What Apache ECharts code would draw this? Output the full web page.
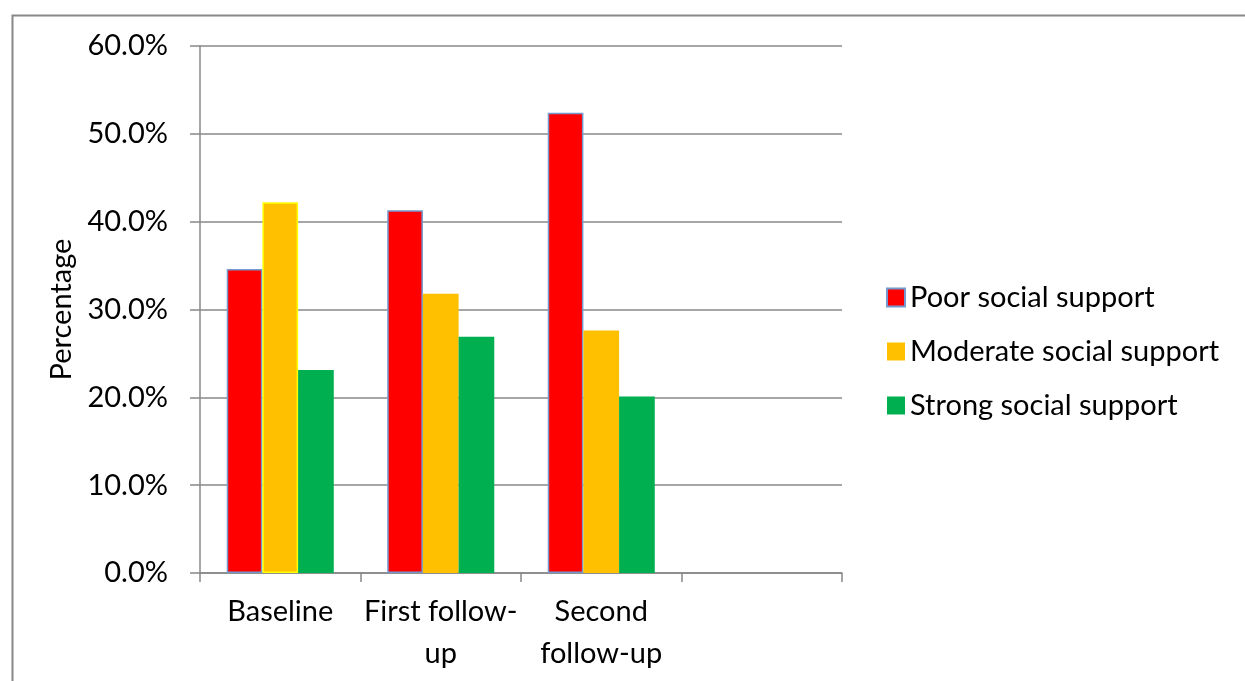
<!DOCTYPE html>
<html>
<head>
<meta charset="utf-8">
<style>
  html, body { margin: 0; padding: 0; background: #fff; }
  #chart { width: 1245px; height: 681px; }
</style>
<script src="https://cdn.jsdelivr.net/npm/echarts@6/dist/echarts.min.js"></script>
</head>
<body>
<div id="chart"></div>
<script>
// Survey waves (the fourth slot is left empty on the axis)
const categories = ['Baseline', 'First follow-\nup', 'Second\nfollow-up', ''];

// Share of respondents (%) per social-support level
const poorSupport = [34.6, 41.3, 52.4];
const moderateSupport = [42.2, 31.8, 27.6];
const strongSupport = [23.1, 26.9, 20.1];

const seriesNames = ['Poor social support', 'Moderate social support', 'Strong social support'];

// Y axis ticks
const yMin = 0, yMax = 60, yStep = 10;

const FONT = 'Lato, "Open Sans", sans-serif';
const FONT_SIZE = 29;
const AXIS_GREY = '#888888';

const chart = echarts.init(document.getElementById('chart'), null, { renderer: 'canvas' });

const option = {
  backgroundColor: '#ffffff',
  animation: false,
  textStyle: { fontFamily: FONT, color: '#000' },
  graphic: [{
    type: 'rect',
    left: 10, top: 13,
    shape: { width: 1400, height: 900 },
    style: { fill: 'none', stroke: AXIS_GREY, lineWidth: 2 },
    silent: true,
    z: -1
  }],
  grid: { left: 200, right: 403, top: 46, bottom: 108, containLabel: false },
  legend: {
    orient: 'vertical',
    left: 881,
    top: 278,
    itemWidth: 18,
    itemHeight: 18,
    itemGap: 25,
    icon: 'rect',
    textStyle: { fontFamily: FONT, fontSize: FONT_SIZE, color: '#000' },
    data: seriesNames
  },
  xAxis: {
    type: 'category',
    data: categories,
    axisLine: { show: true, lineStyle: { color: AXIS_GREY, width: 1.5 } },
    axisTick: { show: true, length: 9, lineStyle: { color: AXIS_GREY, width: 1.5 } },
    axisLabel: {
      fontFamily: FONT, fontSize: FONT_SIZE, color: '#000',
      lineHeight: 42, margin: 18, interval: 0
    },
    splitLine: { show: false }
  },
  yAxis: {
    type: 'value',
    min: yMin, max: yMax, interval: yStep,
    name: 'Percentage',
    nameLocation: 'middle',
    nameRotate: 90,
    nameGap: 118,
    nameTextStyle: { fontFamily: FONT, fontSize: FONT_SIZE, color: '#000' },
    axisLine: { show: true, lineStyle: { color: AXIS_GREY, width: 1.5 } },
    axisTick: { show: true, length: 10, lineStyle: { color: AXIS_GREY, width: 1.5 } },
    axisLabel: {
      fontFamily: FONT, fontSize: FONT_SIZE, color: '#000', margin: 32,
      formatter: v => v.toFixed(1) + '%'
    },
    splitLine: { show: true, lineStyle: { color: AXIS_GREY, width: 1.5 } }
  },
  series: [
    {
      name: seriesNames[0],
      type: 'bar',
      data: poorSupport,
      barGap: '0%',
      barCategoryGap: '33.3%',
      itemStyle: { color: '#ff0000', borderColor: '#7399cf', borderWidth: 1.5 }
    },
    {
      name: seriesNames[1],
      type: 'bar',
      // the baseline bar carries a bright yellow outline
      data: moderateSupport.map((v, i) => i === 0
        ? { value: v, itemStyle: { borderColor: '#ffff00', borderWidth: 1.5 } }
        : v),
      itemStyle: { color: '#ffc000' }
    },
    {
      name: seriesNames[2],
      type: 'bar',
      data: strongSupport,
      itemStyle: { color: '#00b050' }
    }
  ]
};

chart.setOption(option);
</script>
</body>
</html>
